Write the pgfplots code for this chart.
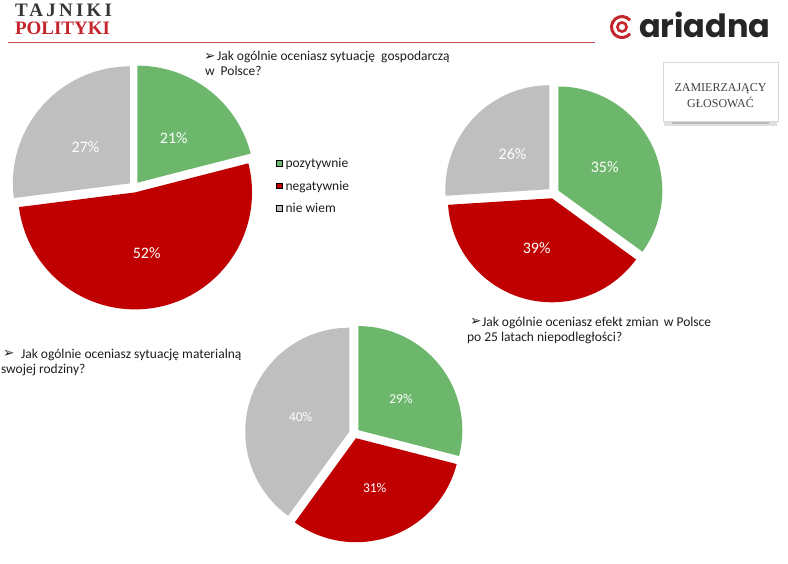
\documentclass[border=0pt]{standalone}
\usepackage{pgfplots}
\pgfplotsset{compat=1.18}
\usepackage{fontspec}
\setmainfont{Carlito}
\newfontfamily\seriff{Liberation Serif}
\newfontfamily\logoserif[LetterSpace=17]{Liberation Serif}
\newfontfamily\logoserifb{Liberation Serif}
\newfontfamily\dejavu{DejaVu Sans}
\newfontfamily\poppins{Poppins}
\definecolor{pgreen}{RGB}{108,183,108}
\definecolor{pred}{RGB}{192,0,0}
\definecolor{pgray}{RGB}{191,191,191}
\definecolor{txt}{RGB}{30,30,30}
\definecolor{logored}{RGB}{196,38,46}
\definecolor{logodark}{RGB}{55,55,55}
\definecolor{linered}{RGB}{192,80,77}
\newcommand\fs[1]{\fontsize{#1bp}{#1bp}\selectfont}
% one exploded slice: cx cy r d a1 a2 colour (a1<a2, degrees)
\newcommand{\slice}[7]{%
  \pgfmathsetmacro\slmid{(#5+#6)/2}%
  \pgfmathsetmacro\ox{#1+#4*cos(\slmid)}%
  \pgfmathsetmacro\oy{#2-#4*sin(\slmid)}%
  \edef\doslice{\noexpand\addplot[forget plot,fill=#7,draw=none,domain=#5:#6,samples=120,variable=\noexpand\t]
    ({\ox+#3*cos(\noexpand\t)},{\oy-#3*sin(\noexpand\t)}) -- (axis cs:\ox,\oy) -- cycle;}%
  \doslice}
% pie: cx cy r d  pozytywnie negatywnie nie-wiem (percent)
\newcommand{\pie}[7]{%
  \pgfmathsetmacro\aA{90-3.6*#5}%
  \pgfmathsetmacro\aB{\aA-3.6*#6}%
  \pgfmathsetmacro\aC{\aB-3.6*#7}%
  \slice{#1}{#2}{#3}{#4}{\aA}{90}{pgreen}%
  \slice{#1}{#2}{#3}{#4}{\aB}{\aA}{pred}%
  \slice{#1}{#2}{#3}{#4}{\aC}{\aB}{pgray}%
}
\begin{document}
\begin{tikzpicture}[t/.style={inner sep=0pt,outer sep=0pt}]
\useasboundingbox (0,0) rectangle (788bp,564bp);
\fill[white] (0,0) rectangle (788bp,564bp);
\begin{axis}[at={(0,0)}, anchor=south west, width=788bp, height=564bp,
  scale only axis, xmin=0, xmax=788, ymin=0, ymax=564, y dir=reverse,
  hide axis, clip=false,
  legend style={at={(axis cs:276,157.5)}, anchor=north west, draw=none, fill=none,
    font=\fs{13.5}, row sep=9.5bp, inner sep=0pt,
    nodes={inner sep=1bp, text=txt}},
  legend cell align=left,
  legend image code/.code={\fill[#1] (0bp,-2.3bp) rectangle (5.8bp,3.5bp); \path (8bp,0bp);}]
% pies
\pie{134}{187}{117}{5.5}{21}{52}{27}
\pie{553.4}{193}{104}{5.5}{35}{39}{26}
\pie{354.2}{433.3}{104}{5.2}{29}{31}{40}
% legend
\addlegendimage{fill=pgreen}\addlegendentry{pozytywnie}
\addlegendimage{fill=pred}\addlegendentry{negatywnie}
\addlegendimage{fill=pgray}\addlegendentry{nie wiem}
% percentage labels
\node[t,white,font=\fs{16}] at (axis cs:173.8,138) {21\%};
\node[t,white,font=\fs{16}] at (axis cs:85.5,147) {27\%};
\node[t,white,font=\fs{16}] at (axis cs:146.7,252.8) {52\%};
\node[t,white,font=\fs{16}] at (axis cs:604.7,166.8) {35\%};
\node[t,white,font=\fs{16}] at (axis cs:536.7,248.3) {39\%};
\node[t,white,font=\fs{16}] at (axis cs:512.5,154.2) {26\%};
\node[t,white,font=\fs{13.5}] at (axis cs:401,398.7) {29\%};
\node[t,white,font=\fs{13.5}] at (axis cs:374.7,488) {31\%};
\node[t,white,font=\fs{13.5}] at (axis cs:300.7,416.7) {40\%};
% questions
\node[t,anchor=base west,font=\dejavu\fs{13.5},text=txt] at (axis cs:204,60.5) {➢};
\node[t,anchor=base west,font=\fs{13.5},text=txt] at (axis cs:217,61) {Jak ogólnie oceniasz sytuację\hspace{3bp} gospodarczą};
\node[t,anchor=base west,font=\fs{13.5},text=txt] at (axis cs:205,76) {w\hspace{3bp} Polsce?};
\node[t,anchor=base west,font=\dejavu\fs{13.5},text=txt] at (axis cs:470,325.5) {➢};
\node[t,anchor=base west,font=\fs{13.5},text=txt] at (axis cs:482,326) {Jak ogólnie oceniasz efekt zmian\hspace{2bp} w Polsce};
\node[t,anchor=base west,font=\fs{13.5},text=txt] at (axis cs:467,341) {po 25 latach niepodległości?};
\node[t,anchor=base west,font=\dejavu\fs{13.5},text=txt] at (axis cs:3,357.5) {➢};
\node[t,anchor=base west,font=\fs{13.5},text=txt] at (axis cs:21,358) {Jak ogólnie oceniasz sytuację materialną};
\node[t,anchor=base west,font=\fs{13.5},text=txt] at (axis cs:1,373) {swojej rodziny?};
% header
\draw[linered, line width=1.2bp] (axis cs:8,42.7) -- (axis cs:595,42.7);
\node[t,anchor=base west,font=\logoserif\bfseries\fs{19},text=logodark] at (axis cs:15,16.5) {TAJNIKI};
\node[t,anchor=base west,font=\logoserifb\bfseries\fs{19},text=logored] at (axis cs:15,35) {POLITYKI};
\node[t,anchor=base west,font=\poppins\bfseries\fs{32},text=black!85] at (axis cs:639,38) {ariadna};
\draw[logored, line width=3bp] (axis cs:622,27) ++(40:10.5bp) arc[start angle=40, end angle=320, radius=10.5bp];
\draw[logored, line width=2.6bp] (axis cs:622,27) circle[radius=4.6bp];
% box
\fill[black!12] (axis cs:664,120) rectangle (axis cs:777,126);
\fill[black!28] (axis cs:672,120) rectangle (axis cs:769,124);
\draw[black!15, fill=white] (axis cs:663,62) rectangle (axis cs:778,121);
\node[t,align=center,font=\seriff\fontsize{12bp}{16bp}\selectfont,text=black!75] at (axis cs:720.5,96) {ZAMIERZAJĄCY\\GŁOSOWAĆ};
\end{axis}
\end{tikzpicture}
\end{document}
